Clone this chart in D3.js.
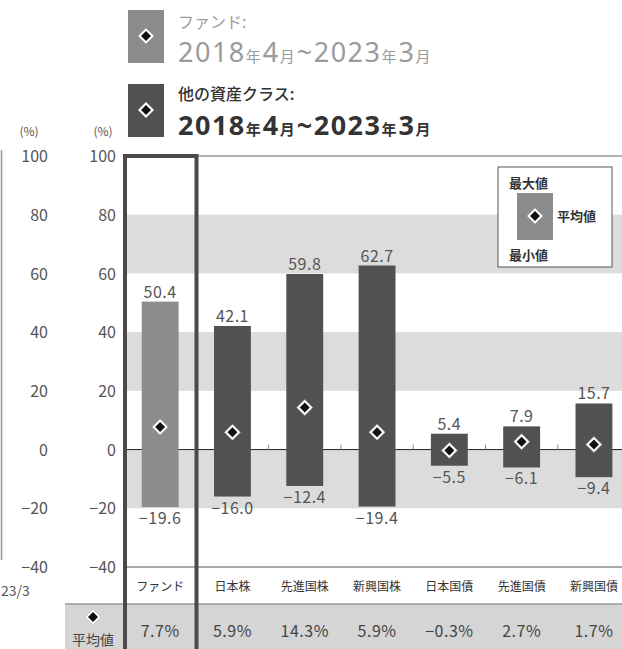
<!DOCTYPE html>
<html><head><meta charset="utf-8">
<script src="https://cdn.jsdelivr.net/npm/d3@7"></script>
<style>body{margin:0;background:#fff}svg{display:block}text{font-family:"Noto Sans CJK JP","Noto Sans",sans-serif}</style>
</head><body><svg id="c" width="622" height="649"></svg>
<script>
const categories = ["ファンド","日本株","先進国株","新興国株","日本国債","先進国債","新興国債"];
const maxValues = [50.4,42.1,59.8,62.7,5.4,7.9,15.7];
const minValues = [-19.6,-16.0,-12.4,-19.4,-5.5,-6.1,-9.4];
const meanValues = [7.7,5.9,14.3,5.9,-0.3,2.7,1.7];
const meanLabels = ["7.7%","5.9%","14.3%","5.9%","−0.3%","2.7%","1.7%"];
const yTicks = [100,80,60,40,20,0,-20,-40];
const bandRanges = [[80,60],[40,20],[0,-20]];

const fundColor = "#8c8c8c", otherColor = "#515151", textColor = "#555";
const svg = d3.select("#c");
const y = d3.scaleLinear().domain([-40,100]).range([567,156]);
const step = 72.3;
const x = d3.scaleBand().domain(categories).range([124, 124+step*categories.length]).paddingInner(0.49).paddingOuter(0.245);
const fmt = v => v.toFixed(1).replace("-", "−");
const diamond = (cx, cy, r) => `M${cx},${cy-r}L${cx+r},${cy}L${cx},${cy+r}L${cx-r},${cy}Z`;
function drawDiamond(g, cx, cy) {
  g.append("path").attr("d", diamond(cx, cy, 8)).attr("fill", "#fff").attr("stroke", "#aaa").attr("stroke-width", 0.6);
  g.append("path").attr("d", diamond(cx, cy, 5)).attr("fill", "#111");
}

// top legend
function legendBlock(yTop, color, labelText, labelColor, bold, labelY, dateY) {
  svg.append("rect").attr("x", 128).attr("y", yTop).attr("width", 36).attr("height", 53).attr("fill", color);
  drawDiamond(svg, 146, yTop + 26);
  svg.append("text").attr("x", 178).attr("y", labelY).attr("font-size", 16).attr("fill", labelColor)
    .attr("font-weight", bold ? 500 : 400).text(labelText);
  const t = svg.append("text").attr("x", 178).attr("y", dateY).attr("fill", labelColor)
    .attr("font-weight", bold ? 700 : 400);
  [["2018",27],["年",15],["4",27],["月",15],["~2023",27],["年",15],["3",27],["月",15]].forEach(([s, fs]) =>
    t.append("tspan").attr("font-size", fs).attr("letter-spacing", fs > 20 ? 1.5 : 2)
      .style("font-family", fs > 20 ? '"Noto Sans",sans-serif' : '"Noto Sans CJK JP",sans-serif').text(s));
}
legendBlock(10, fundColor, "ファンド:", "#9a9a9a", false, 28, 62);
legendBlock(84, otherColor, "他の資産クラス:", "#333", true, 100, 135);

// background bands
svg.selectAll("rect.band").data(bandRanges).join("rect").attr("class", "band")
  .attr("x", 124).attr("width", 622 - 124)
  .attr("y", d => y(d[0])).attr("height", d => y(d[1]) - y(d[0]))
  .attr("fill", "#dcdcdc");

// frame lines
svg.append("line").attr("x1", 124).attr("x2", 622).attr("y1", y(100)).attr("y2", y(100)).attr("stroke", "#999").attr("stroke-width", 1.5);
svg.append("line").attr("x1", 124).attr("x2", 622).attr("y1", y(-40)).attr("y2", y(-40)).attr("stroke", "#aaa").attr("stroke-width", 2);

// zero line
svg.append("line").attr("x1", 124).attr("x2", 622).attr("y1", y(0)).attr("y2", y(0)).attr("stroke", "#222").attr("stroke-width", 1);
// boundary ticks
d3.range(2, categories.length).forEach(i => {
  const bx = 124 + step * i;
  svg.append("line").attr("x1", bx).attr("x2", bx).attr("y1", y(0) - 5).attr("y2", y(0)).attr("stroke", "#888");
});

// bars
const cats = categories.map((c, i) => ({c, i, max: maxValues[i], min: minValues[i], mean: meanValues[i]}));
svg.selectAll("rect.bar").data(cats).join("rect").attr("class", "bar")
  .attr("x", d => x(d.c)).attr("width", x.bandwidth())
  .attr("y", d => y(d.max)).attr("height", d => y(d.min) - y(d.max))
  .attr("fill", d => d.i === 0 ? fundColor : otherColor);

// value labels
svg.selectAll("text.maxl").data(cats).join("text").attr("class", "maxl")
  .attr("x", d => x(d.c) + x.bandwidth() / 2).attr("y", d => y(d.max) - 4)
  .attr("text-anchor", "middle").attr("font-size", 16).attr("letter-spacing", 0.5).attr("fill", textColor).text(d => fmt(d.max));
svg.selectAll("text.minl").data(cats).join("text").attr("class", "minl")
  .attr("x", d => x(d.c) + x.bandwidth() / 2).attr("y", d => y(d.min) + 17)
  .attr("text-anchor", "middle").attr("font-size", 16).attr("letter-spacing", 0.5).attr("fill", textColor).text(d => fmt(d.min));

// mean diamonds
cats.forEach(d => drawDiamond(svg, x(d.c) + x.bandwidth() / 2, y(d.mean)));

// y axis (main)
const axis = svg.append("g").attr("transform", "translate(116,0)")
  .call(d3.axisLeft(y).tickValues(yTicks).tickSize(0).tickPadding(0).tickFormat(d => String(d).replace("-", "−")));
axis.select(".domain").remove();
axis.selectAll("text").attr("font-size", 16).attr("fill", textColor).attr("dy", "0.35em")
  .style("font-family", '"Noto Sans CJK JP","Noto Sans",sans-serif');
svg.append("text").attr("x", 103).attr("y", 136).attr("text-anchor", "middle").attr("font-size", 12).attr("fill", textColor).text("(%)");

// left remnant axis
const axis2 = svg.append("g").attr("transform", "translate(48,0)")
  .call(d3.axisLeft(y).tickValues(yTicks).tickSize(0).tickPadding(0).tickFormat(d => String(d).replace("-", "−")));
axis2.select(".domain").remove();
axis2.selectAll("text").attr("font-size", 16).attr("fill", textColor).attr("dy", "0.35em")
  .style("font-family", '"Noto Sans CJK JP","Noto Sans",sans-serif');
svg.append("text").attr("x", 29).attr("y", 136).attr("text-anchor", "middle").attr("font-size", 12).attr("fill", textColor).text("(%)");
svg.append("line").attr("x1", 1.5).attr("x2", 1.5).attr("y1", 150).attr("y2", 560).attr("stroke", "#999").attr("stroke-width", 1.5);
svg.append("text").attr("x", 1).attr("y", 596).attr("font-size", 14).attr("fill", textColor).text("23/3");

// category labels
svg.selectAll("text.cat").data(cats).join("text").attr("class", "cat")
  .attr("x", d => x(d.c) + x.bandwidth() / 2).attr("y", 591)
  .attr("text-anchor", "middle").attr("font-size", 12).attr("fill", "#333").text(d => d.c);

// table row
svg.append("rect").attr("x", 65).attr("y", 604).attr("width", 622 - 65).attr("height", 45).attr("fill", "#d5d5d5");
svg.append("line").attr("x1", 65).attr("x2", 622).attr("y1", 604).attr("y2", 604).attr("stroke", "#999").attr("stroke-width", 1.5);
svg.selectAll("text.mean").data(cats).join("text").attr("class", "mean")
  .attr("x", d => x(d.c) + x.bandwidth() / 2).attr("y", 637)
  .attr("text-anchor", "middle").attr("font-size", 16).attr("letter-spacing", 0.5).attr("fill", "#444").text(d => meanLabels[d.i]);
drawDiamond(svg, 93, 617);
svg.append("text").attr("x", 93).attr("y", 645).attr("text-anchor", "middle").attr("font-size", 14).attr("fill", "#444").text("平均値");

// fund highlight box
svg.append("rect").attr("x", 125).attr("y", 156).attr("width", 71.5).attr("height", 520)
  .attr("fill", "none").attr("stroke", "#4a4a4a").attr("stroke-width", 4);

// inner legend
svg.append("rect").attr("x", 498).attr("y", 167).attr("width", 114).attr("height", 100).attr("fill", "#fff").attr("stroke", "#555").attr("stroke-width", 1);
svg.append("rect").attr("x", 517).attr("y", 193).attr("width", 36).attr("height", 47).attr("fill", fundColor);
drawDiamond(svg, 535, 216);
svg.append("text").attr("x", 509).attr("y", 188).attr("font-size", 13).attr("font-weight", 700).attr("fill", "#333").text("最大値");
svg.append("text").attr("x", 557).attr("y", 221).attr("font-size", 13).attr("font-weight", 700).attr("fill", "#333").text("平均値");
svg.append("text").attr("x", 509).attr("y", 260).attr("font-size", 13).attr("font-weight", 700).attr("fill", "#333").text("最小値");
</script></body></html>
